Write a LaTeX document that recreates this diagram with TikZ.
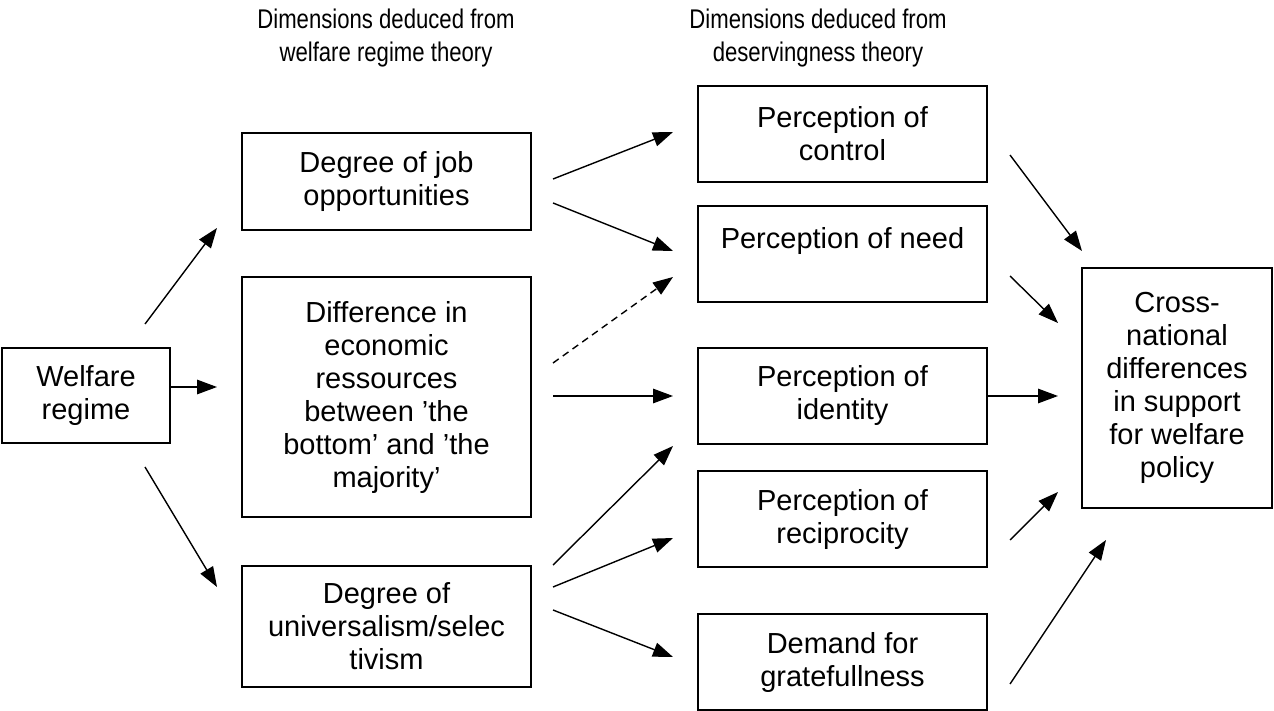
\documentclass[tikz,border=0pt]{standalone}
\usepackage{fontspec}
\setmainfont{Liberation Sans}
\newfontfamily\hdrfont[FakeStretch=0.82]{Liberation Sans}
\usetikzlibrary{arrows.meta}
\begin{document}
\begin{tikzpicture}[x=1pt,y=-1pt,
  box/.style={draw, line width=1.6pt, inner sep=0pt, align=center, font=\fontsize{29}{33}\selectfont},
  hdr/.style={inner sep=0pt, align=center, font=\hdrfont\fontsize{27}{33}\selectfont},
  midbox/.style={box, minimum width=289pt},
  arr/.style={line width=1.4pt, -{Triangle[length=20pt,width=14.5pt]}},
  dsh/.style={arr, dash pattern=on 7pt off 5pt}]
\useasboundingbox (0,0) rectangle (1274,711);

% headers
\node[hdr] (h1) at (386,38) {Dimensions deduced from\\welfare regime theory};
\node[hdr] (h2) at (818,38) {Dimensions deduced from\\deservingness theory};

% left
\node[box, minimum width=168pt, minimum height=95pt] (wr) at (86,395.5) {Welfare\\regime};

% middle column
\node[midbox, minimum height=97pt] (job) at (386.5,181.5) {Degree of job\\opportunities};
\node[midbox, minimum height=240pt] (diff) at (386.5,397) {Difference in\\economic\\ressources\\between ’the\\bottom’ and ’the\\majority’};
\node[midbox, minimum height=121pt] (univ) at (386.5,626.5) {Degree of\\universalism/selec\\tivism};

% right column
\node[midbox, minimum height=96pt] (ctrl) at (842.5,134) {Perception of\\control};
\node[midbox, minimum height=96pt] (need) at (842.5,254) {Perception of need\\\mbox{}};
\node[midbox, minimum height=96pt] (iden) at (842.5,396) {Perception of\\identity};
\node[midbox, minimum height=96pt] (reci) at (842.5,519) {Perception of\\reciprocity};
\node[midbox, minimum height=96pt] (grat) at (842.5,662) {Demand for\\gratefullness};

% outcome
\node[box, minimum width=190pt, minimum height=240pt] (cross) at (1177,388) {Cross-\\national\\differences\\in support\\for welfare\\policy};

% connector end points
\coordinate (w1s) at (145,324); \coordinate (w1e) at (217,228);
\coordinate (w2e) at (217,387);
\coordinate (w3s) at (145,467); \coordinate (w3e) at (217,587);
\coordinate (j1s) at (553,179); \coordinate (j1e) at (673,132);
\coordinate (j2s) at (553,203); \coordinate (j2e) at (673,251);
\coordinate (d1s) at (553,363); \coordinate (d1e) at (673,277);
\coordinate (d2s) at (553,396); \coordinate (d2e) at (673,396);
\coordinate (u1s) at (553,565); \coordinate (u1e) at (673,446);
\coordinate (u2s) at (553,587); \coordinate (u2e) at (673,538);
\coordinate (u3s) at (553,610); \coordinate (u3e) at (673,657);
\coordinate (c1s) at (1010,155); \coordinate (c1e) at (1082,251);
\coordinate (n1s) at (1010,276); \coordinate (n1e) at (1058,323);
\coordinate (i1e) at (1058,396);
\coordinate (r1s) at (1010,540); \coordinate (r1e) at (1058,492);
\coordinate (g1s) at (1010,684); \coordinate (g1e) at (1106,540);

% connectors
\draw[arr] (w1s) -- (w1e);
\draw[arr] ([yshift=8.5pt]wr.east) -- (w2e);
\draw[arr] (w3s) -- (w3e);
\draw[arr] (j1s) -- (j1e);
\draw[arr] (j2s) -- (j2e);
\draw[dsh] (d1s) -- (d1e);
\draw[arr] (d2s) -- (d2e);
\draw[arr] (u1s) -- (u1e);
\draw[arr] (u2s) -- (u2e);
\draw[arr] (u3s) -- (u3e);
\draw[arr] (c1s) -- (c1e);
\draw[arr] (n1s) -- (n1e);
\draw[arr] (iden.east) -- (i1e);
\draw[arr] (r1s) -- (r1e);
\draw[arr] (g1s) -- (g1e);
\end{tikzpicture}
\end{document}
